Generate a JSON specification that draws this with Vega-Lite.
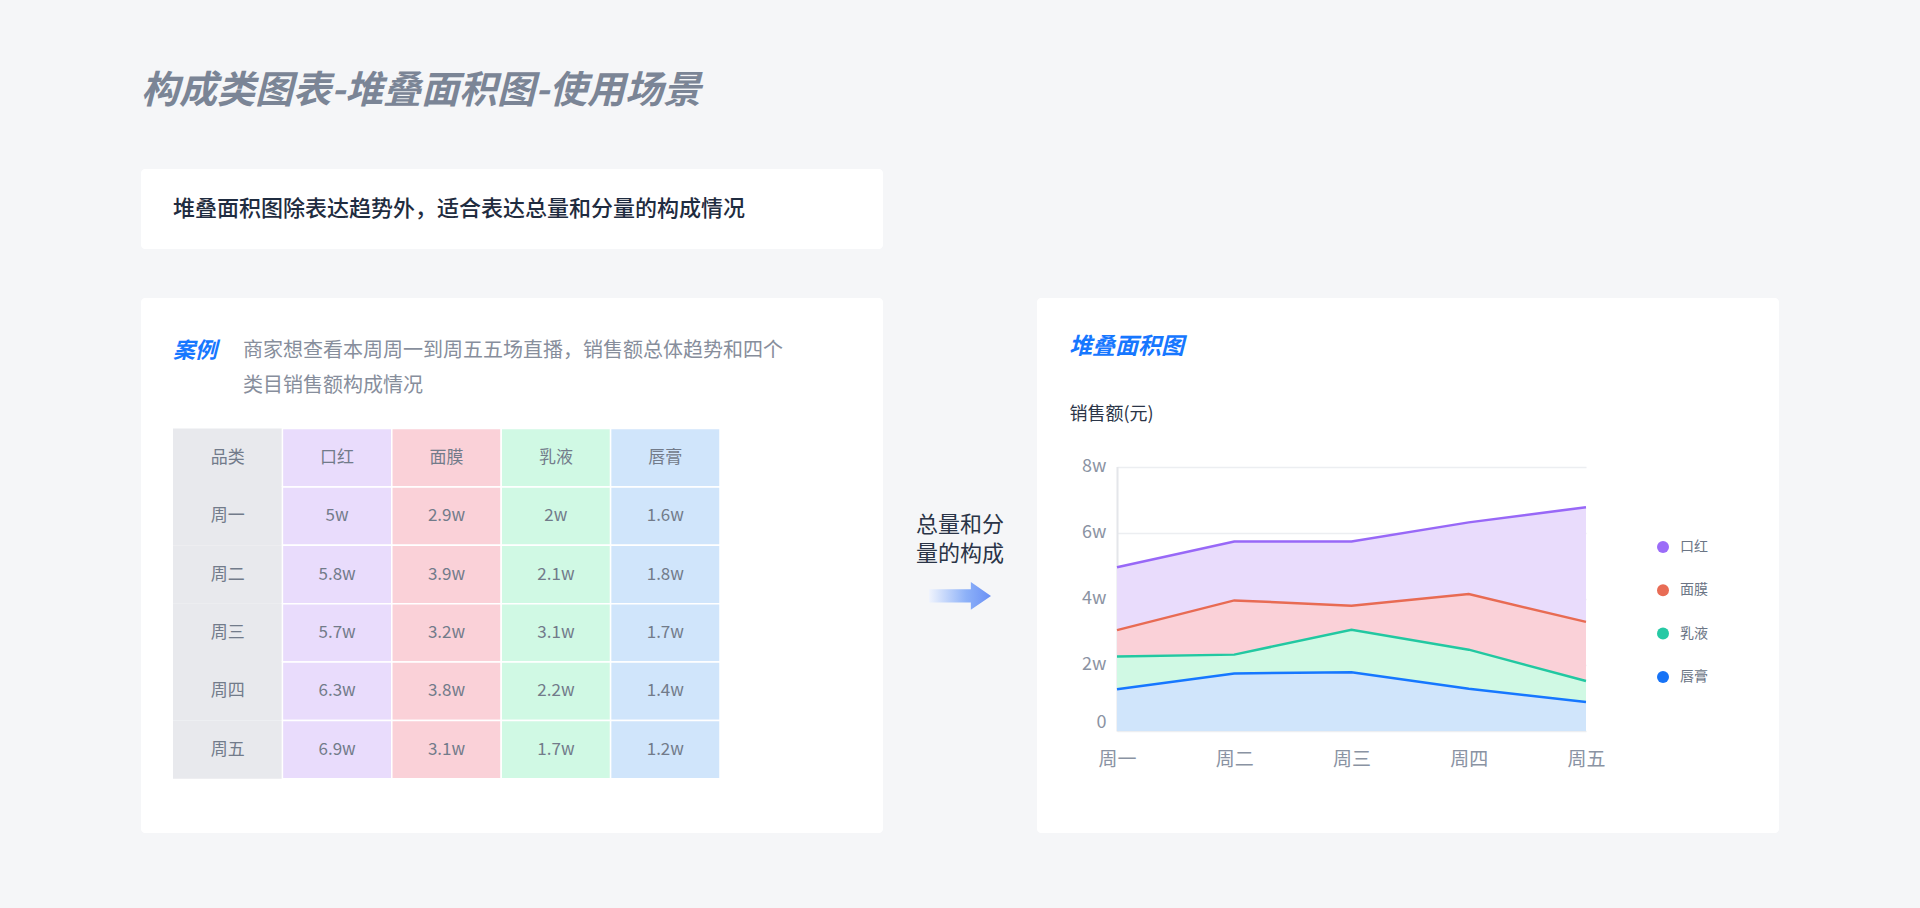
{
  "$schema": "https://vega.github.io/schema/vega-lite/v6.json",
  "background": "#f5f6f8",
  "padding": {"left": 141, "top": 73, "right": 141, "bottom": 75},
  "config": {
    "view": {"stroke": null},
    "font": "Noto Sans CJK SC",
    "title": {"font": "Noto Sans CJK SC"},
    "axis": {"labelFont": "Noto Sans CJK SC", "titleFont": "Noto Sans CJK SC"},
    "legend": {"labelFont": "Noto Sans CJK SC"}
  },
  "title": {
    "text": "构成类图表-堆叠面积图-使用场景",
    "anchor": "start",
    "frame": "group",
    "baseline": "middle",
    "offset": 39,
    "fontSize": 38,
    "fontStyle": "italic",
    "fontWeight": "bold",
    "color": "#7b8596"
  },
  "spacing": 49,
  "bounds": "flush",
  "vconcat": [
    {
      "width": 742,
      "height": 80,
      "view": {"fill": "#ffffff", "cornerRadius": 4},
      "title": {
        "text": "堆叠面积图除表达趋势外，适合表达总量和分量的构成情况",
        "anchor": "start",
        "frame": "group",
        "dx": 32,
        "offset": -61.6,
        "baseline": "middle",
        "fontSize": 22,
        "fontWeight": 500,
        "color": "#1f2c40"
      },
      "data": {"values": []},
      "mark": {"type": "point", "opacity": 0},
      "encoding": {}
    },
    {
      "spacing": 0,
      "bounds": "flush",
      "hconcat": [
        {
          "width": 742,
          "height": 535,
          "view": {"fill": "#ffffff", "cornerRadius": 4},
          "title": {
            "text": "案例",
            "anchor": "start",
            "frame": "group",
            "dx": 32,
            "offset": -75,
            "baseline": "middle",
            "fontSize": 22,
            "fontStyle": "italic",
            "fontWeight": "bold",
            "color": "#1677ff"
          },
          "data": {
            "values": [
              {"r": "品类", "c": "品类", "t": "品类"},
              {"r": "品类", "c": "口红", "t": "口红"},
              {"r": "品类", "c": "面膜", "t": "面膜"},
              {"r": "品类", "c": "乳液", "t": "乳液"},
              {"r": "品类", "c": "唇膏", "t": "唇膏"},
              {"r": "周一", "c": "品类", "t": "周一"},
              {"r": "周一", "c": "口红", "t": "5w"},
              {"r": "周一", "c": "面膜", "t": "2.9w"},
              {"r": "周一", "c": "乳液", "t": "2w"},
              {"r": "周一", "c": "唇膏", "t": "1.6w"},
              {"r": "周二", "c": "品类", "t": "周二"},
              {"r": "周二", "c": "口红", "t": "5.8w"},
              {"r": "周二", "c": "面膜", "t": "3.9w"},
              {"r": "周二", "c": "乳液", "t": "2.1w"},
              {"r": "周二", "c": "唇膏", "t": "1.8w"},
              {"r": "周三", "c": "品类", "t": "周三"},
              {"r": "周三", "c": "口红", "t": "5.7w"},
              {"r": "周三", "c": "面膜", "t": "3.2w"},
              {"r": "周三", "c": "乳液", "t": "3.1w"},
              {"r": "周三", "c": "唇膏", "t": "1.7w"},
              {"r": "周四", "c": "品类", "t": "周四"},
              {"r": "周四", "c": "口红", "t": "6.3w"},
              {"r": "周四", "c": "面膜", "t": "3.8w"},
              {"r": "周四", "c": "乳液", "t": "2.2w"},
              {"r": "周四", "c": "唇膏", "t": "1.4w"},
              {"r": "周五", "c": "品类", "t": "周五"},
              {"r": "周五", "c": "口红", "t": "6.9w"},
              {"r": "周五", "c": "面膜", "t": "3.1w"},
              {"r": "周五", "c": "乳液", "t": "1.7w"},
              {"r": "周五", "c": "唇膏", "t": "1.2w"}
            ]
          },
          "encoding": {
            "x": {
              "field": "c",
              "type": "nominal",
              "scale": {
                "domain": ["品类", "口红", "面膜", "乳液", "唇膏"],
                "range": [32, 579],
                "paddingInner": 0,
                "paddingOuter": 0
              },
              "axis": {
                "orient": "top",
                "labels": false,
                "ticks": false,
                "domain": false,
                "grid": false,
                "title": ["商家想查看本周周一到周五五场直播，销售额总体趋势和四个", "类目销售额构成情况"],
                "titleX": 101.5,
                "titleY": 52,
                "titleAlign": "left",
                "titleBaseline": "middle",
                "titleLineHeight": 35,
                "titleFontSize": 20,
                "titleFontWeight": "normal",
                "titleColor": "#878e9c"
              }
            },
            "y": {
              "field": "r",
              "type": "nominal",
              "scale": {
                "domain": ["品类", "周一", "周二", "周三", "周四", "周五"],
                "range": [130.6, 480.8],
                "paddingInner": 0,
                "paddingOuter": 0
              },
              "axis": null
            }
          },
          "layer": [
            {
              "mark": {"type": "rect", "strokeWidth": 1.5},
              "encoding": {
                "fill": {
                  "field": "c",
                  "type": "nominal",
                  "scale": {
                    "domain": ["品类", "口红", "面膜", "乳液", "唇膏"],
                    "range": ["#e8e9ed", "#e9dcfc", "#fad1d8", "#d0f9e4", "#d0e5fb"]
                  },
                  "legend": null
                },
                "stroke": {
                  "condition": {"test": "datum.c !== '品类'", "value": "#ffffff"},
                  "value": null
                }
              }
            },
            {
              "mark": {"type": "text", "fontSize": 17, "color": "#727b8a"},
              "encoding": {"text": {"field": "t", "type": "nominal"}}
            }
          ]
        },
        {
          "width": 154,
          "height": 535,
          "title": {
            "text": ["总量和分", "量的构成"],
            "anchor": "middle",
            "frame": "group",
            "offset": -277.5,
            "baseline": "middle",
            "lineHeight": 29,
            "fontSize": 22,
            "fontWeight": "normal",
            "color": "#2a3447"
          },
          "data": {"values": [{"step": "总量和分量的构成"}]},
          "mark": {
            "type": "point",
            "shape": "M-1,0.77 L0.35,0.77 L0.35,0.53 L1,0.98 L0.35,1.43 L0.35,1.19 L-1,1.19 Z",
            "size": 3844,
            "filled": true,
            "opacity": 1,
            "strokeWidth": 0,
            "fill": {
              "gradient": "linear",
              "x1": 0, "y1": 0, "x2": 1, "y2": 0,
              "stops": [
                {"offset": 0, "color": "#f0f4fd"},
                {"offset": 0.6, "color": "#8db1f8"},
                {"offset": 1, "color": "#6a90f5"}
              ]
            }
          },
          "encoding": {}
        },
        {
          "width": 742,
          "height": 535,
          "view": {"fill": "#ffffff", "cornerRadius": 4},
          "title": {
            "text": "堆叠面积图",
            "anchor": "start",
            "frame": "group",
            "dx": 32,
            "offset": -72,
            "baseline": "middle",
            "fontSize": 23,
            "fontStyle": "italic",
            "fontWeight": "bold",
            "color": "#1677ff"
          },
          "data": {
            "values": [
              {"day": "周一", "cat": "口红", "v": 4.95},
              {"day": "周二", "cat": "口红", "v": 5.73},
              {"day": "周三", "cat": "口红", "v": 5.73},
              {"day": "周四", "cat": "口红", "v": 6.31},
              {"day": "周五", "cat": "口红", "v": 6.77},
              {"day": "周一", "cat": "面膜", "v": 3.05},
              {"day": "周二", "cat": "面膜", "v": 3.95},
              {"day": "周三", "cat": "面膜", "v": 3.79},
              {"day": "周四", "cat": "面膜", "v": 4.14},
              {"day": "周五", "cat": "面膜", "v": 3.3},
              {"day": "周一", "cat": "乳液", "v": 2.25},
              {"day": "周二", "cat": "乳液", "v": 2.31},
              {"day": "周三", "cat": "乳液", "v": 3.06},
              {"day": "周四", "cat": "乳液", "v": 2.46},
              {"day": "周五", "cat": "乳液", "v": 1.51},
              {"day": "周一", "cat": "唇膏", "v": 1.26},
              {"day": "周二", "cat": "唇膏", "v": 1.74},
              {"day": "周三", "cat": "唇膏", "v": 1.78},
              {"day": "周四", "cat": "唇膏", "v": 1.28},
              {"day": "周五", "cat": "唇膏", "v": 0.88}
            ]
          },
          "encoding": {
            "x": {
              "field": "day",
              "type": "ordinal",
              "scale": {
                "type": "point",
                "domain": ["周一", "周二", "周三", "周四", "周五"],
                "range": [80, 549],
                "padding": 0
              },
              "axis": {
                "orient": "bottom",
                "offset": -102,
                "domain": false,
                "ticks": false,
                "grid": false,
                "labelAngle": 0,
                "labelPadding": 19.5,
                "labelFontSize": 19,
                "labelColor": "#8a93a3",
                "title": null
              }
            },
            "y": {
              "field": "v",
              "type": "quantitative",
              "stack": null,
              "scale": {"domain": [0, 8], "range": [433, 168.5], "nice": false, "zero": true},
              "axis": {
                "orient": "left",
                "offset": -80,
                "values": [0, 2, 4, 6, 8],
                "labelExpr": "datum.value === 0 ? '0' : datum.value + 'w'",
                "labelBaseline": {"condition": {"test": "datum.value === 0", "value": "bottom"}, "value": "middle"},
                "grid": true,
                "gridColor": "#eceef1",
                "gridWidth": 1.5,
                "domain": true,
                "domainColor": "#e4e6ea",
                "domainWidth": 2,
                "ticks": false,
                "labelPadding": 11,
                "labelFontSize": 18,
                "labelColor": "#8b93a3",
                "title": "销售额(元)",
                "titleX": -48,
                "titleY": 116,
                "titleAngle": 0,
                "titleAlign": "left",
                "titleBaseline": "middle",
                "titleFontSize": 18,
                "titleFontWeight": "normal",
                "titleColor": "#2b3547"
              }
            }
          },
          "layer": [
            {
              "mark": {"type": "area", "opacity": 1},
              "encoding": {
                "fill": {
                  "field": "cat",
                  "type": "nominal",
                  "scale": {
                    "domain": ["口红", "面膜", "乳液", "唇膏"],
                    "range": ["#e9dcfc", "#fad1d8", "#d0f9e4", "#d0e5fb"]
                  },
                  "legend": null
                }
              }
            },
            {
              "mark": {"type": "line", "strokeWidth": 2.5},
              "encoding": {
                "stroke": {
                  "field": "cat",
                  "type": "nominal",
                  "scale": {
                    "domain": ["口红", "面膜", "乳液", "唇膏"],
                    "range": ["#9868f7", "#e86b53", "#22c8a1", "#1677ff"]
                  },
                  "legend": {
                    "orient": "none",
                    "legendX": 1515,
                    "legendY": 371,
                    "title": null,
                    "padding": 0,
                    "symbolType": "circle",
                    "symbolSize": 144,
                    "symbolOpacity": 1,
                    "symbolStrokeWidth": 0,
                    "labelFontSize": 14,
                    "labelColor": "#6b7585",
                    "labelOffset": 10,
                    "rowPadding": 29.3,
                    "encode": {
                      "symbols": {
                        "update": {
                          "fill": {"signal": "datum.value === '口红' ? '#9b6cf8' : datum.value === '面膜' ? '#e86c55' : datum.value === '乳液' ? '#26c9a4' : '#1773f6'"},
                          "strokeWidth": {"value": 0},
                          "opacity": {"value": 1}
                        }
                      }
                    }
                  }
                }
              }
            }
          ]
        }
      ]
    }
  ]
}
